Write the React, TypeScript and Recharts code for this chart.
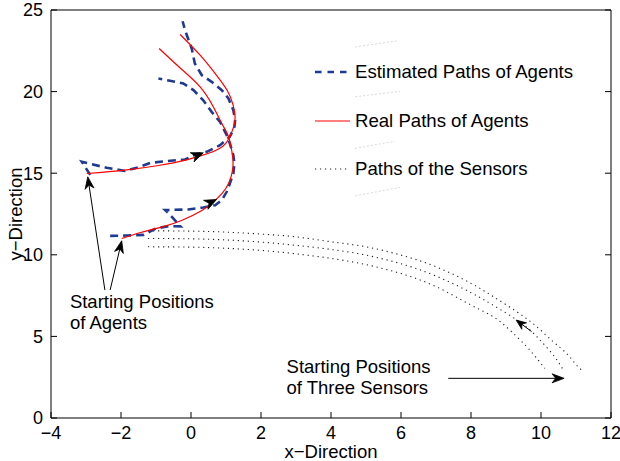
import React from "react";
import { LineChart, Line, XAxis, YAxis, ReferenceLine, ReferenceDot, Legend } from "recharts";

type Pt = [number, number];

const xTicks = [-4, -2, 0, 2, 4, 6, 8, 10, 12];
const yTicks = [0, 5, 10, 15, 20, 25];

// real paths of the two agents
const realPathA: Pt[] = [
  [-1.98, 11.0], [-1.41, 11.38], [-0.84, 11.7], [-0.27, 12.1], [0.31, 12.72], [0.62, 13.2],
  [0.9, 13.8], [1.08, 14.4], [1.18, 15.1], [1.2, 15.8], [1.15, 16.55], [1.06, 17.3],
  [0.88, 18.05], [0.64, 19.06], [0.26, 20.29], [-0.31, 21.45], [-0.91, 22.64],
];
const realPathB: Pt[] = [
  [-2.98, 14.98], [-1.89, 15.19], [-0.93, 15.47], [-0.15, 15.8], [0.2, 16.02], [0.5, 16.22],
  [0.8, 16.5], [1.0, 16.85], [1.12, 17.3], [1.22, 17.85], [1.26, 18.45], [1.2, 19.2],
  [1.04, 20.05], [0.73, 21.0], [0.26, 22.23], [-0.31, 23.5],
];

// estimated paths
const estPathA: Pt[] = [
  [-2.31, 11.16], [-1.85, 11.18], [-1.36, 11.22], [-1.0, 11.62], [-0.6, 11.76], [-0.3, 11.74],
  [-0.6, 12.45], [-0.74, 12.74], [-0.08, 12.78], [0.35, 12.9], [0.69, 13.04], [0.88, 13.35],
  [1.02, 13.86], [1.11, 14.37], [1.21, 14.98], [1.24, 15.6], [1.21, 16.1], [1.11, 16.82],
  [1.02, 17.33], [0.83, 18.14], [0.59, 18.76], [0.35, 19.47], [0.07, 20.09], [-0.22, 20.5],
  [-0.6, 20.66], [-0.93, 20.8],
];
const estPathB: Pt[] = [
  [-2.88, 14.9], [-3.12, 15.7], [-2.41, 15.33], [-1.89, 15.14], [-1.46, 15.39], [-1.17, 15.63],
  [-0.69, 15.74], [-0.17, 15.84], [0.16, 16.17], [0.45, 16.31], [0.83, 16.72], [1.11, 17.23],
  [1.24, 17.84], [1.26, 18.25], [1.21, 18.86], [1.07, 19.58], [0.88, 20.09], [0.59, 20.6],
  [0.31, 21.0], [0.11, 21.72], [0.02, 22.64], [-0.17, 23.76], [-0.24, 24.31],
];

// sensor paths (outer, middle, inner arc)
const sensorPath1: Pt[] = [
  [-1.23, 11.47], [0, 11.45], [1, 11.39], [2, 11.27], [3, 11.1], [4, 10.8], [5, 10.49],
  [6, 9.98], [7, 9.27], [8, 8.25], [8.64, 7.43], [9.31, 6.51], [9.88, 5.59], [10.35, 4.67],
  [10.73, 3.96], [10.97, 3.35], [11.16, 2.94],
];
const sensorPath2: Pt[] = [
  [-1.23, 11.0], [0, 10.98], [1, 10.91], [2, 10.78], [3, 10.58], [4, 10.33], [5, 9.98],
  [6, 9.45], [7, 8.7], [8, 7.68], [8.6, 6.95], [9.45, 5.8], [9.97, 4.78], [10.35, 3.86],
  [10.64, 2.94],
];
const sensorPath3: Pt[] = [
  [-1.23, 10.49], [0, 10.47], [1, 10.4], [2, 10.27], [3, 10.06], [4, 9.78], [5, 9.4],
  [6, 8.85], [7, 8.05], [8, 6.92], [8.64, 6.2], [9.11, 5.39], [9.59, 4.37], [9.92, 3.55],
  [10.11, 3.04],
];

// annotation arrows: [tail, tip]
const labelArrows: [Pt, Pt][] = [
  [[-2.46, 7.84], [-2.95, 14.78]],
  [[-2.31, 7.84], [-1.98, 10.86]],
  [[7.35, 2.43], [10.66, 2.43]],
];
const directionArrows: [Pt, Pt][] = [
  [[-0.03, 15.92], [0.35, 16.25]],
  [[0.4, 13.04], [0.73, 13.39]],
];
const sensorArrow: [Pt, Pt] = [[9.73, 5.3], [9.29, 6.0]];
const ghostLines: [Pt, Pt][] = [
  [[4.69, 22.74], [5.88, 23.1]],
  [[4.69, 19.68], [5.97, 20.02]],
  [[4.69, 16.52], [5.83, 16.96]],
  [[4.69, 13.61], [5.97, 14.13]],
];

const agentNote = { x: -3.46, y: 6.74, lines: ["Starting Positions", "of Agents"] };
const sensorNote = { x: 2.73, y: 2.74, lines: ["Starting Positions", "of Three Sensors"] };

const legendItems = [
  { label: "Estimated Paths of Agents", kind: "est" },
  { label: "Real Paths of Agents", kind: "real" },
  { label: "Paths of the Sensors", kind: "sensor" },
];

const FONT = "'Liberation Sans', Arial, Helvetica, sans-serif";
const BLUE = "#1f3a93";
const RED = "#ff0000";
const DOTS = "#222";

const toPts = (p: Pt[]) => p.map(([x, y]) => ({ x, y }));
const minus = (v: number) => String(v).replace("-", "\u2212");

function arrow(shaft: boolean, len = 12, half = 4.5) {
  return (props: any) => {
    const { x1, y1, x2, y2 } = props;
    const a = Math.atan2(y2 - y1, x2 - x1);
    const c = Math.cos(a);
    const s = Math.sin(a);
    const bx = x2 - len * c;
    const by = y2 - len * s;
    const nx = x2 - len * 0.7 * c;
    const ny = y2 - len * 0.7 * s;
    const pts = `${x2},${y2} ${bx - half * s},${by + half * c} ${nx},${ny} ${bx + half * s},${by - half * c}`;
    return (
      <g>
        {shaft && <line x1={x1} y1={y1} x2={nx} y2={ny} stroke="#000" strokeWidth={1} />}
        <polygon points={pts} fill="#000" stroke="#000" strokeWidth={0.8} strokeLinejoin="miter" />
      </g>
    );
  };
}

function note(lines: string[]) {
  return (props: any) => (
    <text x={props.cx} y={props.cy} fontFamily={FONT} fontSize={18.5} fill="#000">
      {lines.map((t, i) => (
        <tspan key={t} x={props.cx} dy={i === 0 ? 0 : 21}>
          {t}
        </tspan>
      ))}
    </text>
  );
}

function renderLegend() {
  return (
    <div style={{ fontFamily: FONT, fontSize: 18.6, color: "#000" }}>
      {legendItems.map((it) => (
        <div key={it.label} style={{ height: 48.6, display: "flex", alignItems: "center" }}>
          <svg width={35} height={10} style={{ marginRight: 5 }}>
            {it.kind === "est" && (
              <line x1={0} y1={5} x2={35} y2={5} stroke={BLUE} strokeWidth={2.5} strokeDasharray="6.5 6" />
            )}
            {it.kind === "real" && <line x1={0} y1={5} x2={35} y2={5} stroke={RED} strokeWidth={1.2} />}
            {it.kind === "sensor" && (
              <line x1={0} y1={5} x2={35} y2={5} stroke={DOTS} strokeWidth={1} strokeDasharray="1.2 3.8" />
            )}
          </svg>
          <span style={{ whiteSpace: "nowrap" }}>{it.label}</span>
        </div>
      ))}
    </div>
  );
}

export default function App() {
  const seg = (p: [Pt, Pt]) => [
    { x: p[0][0], y: p[0][1] },
    { x: p[1][0], y: p[1][1] },
  ];

  return (
    <div style={{ position: "absolute", left: 0, top: 0, width: 620, height: 461, fontFamily: FONT }}>
      <LineChart width={620} height={461} margin={{ top: 9, right: 8, bottom: 0, left: 8 }}>
        <XAxis
          dataKey="x"
          type="number"
          domain={[-4, 12]}
          ticks={xTicks}
          allowDataOverflow
          interval={0}
          height={43}
          tickSize={-6}
          tickMargin={14}
          stroke="#000"
          tick={{ fill: "#000", fontSize: 18, fontFamily: FONT }}
          tickFormatter={minus}
          label={{ value: "x\u2212Direction", position: "insideBottom", offset: 3, fill: "#000", fontSize: 18.5, fontFamily: FONT }}
        />
        <XAxis
          xAxisId="top"
          orientation="top"
          type="number"
          domain={[-4, 12]}
          ticks={xTicks}
          allowDataOverflow
          interval={0}
          height={1}
          tickSize={-6}
          stroke="#000"
          tickFormatter={() => ""}
        />
        <YAxis
          dataKey="y"
          type="number"
          domain={[0, 25]}
          ticks={yTicks}
          allowDataOverflow
          interval={0}
          width={43}
          tickSize={-6}
          tickMargin={14}
          stroke="#000"
          tick={{ fill: "#000", fontSize: 18, fontFamily: FONT }}
          label={{ value: "y\u2212Direction", angle: -90, position: "insideLeft", offset: 7, fill: "#000", fontSize: 18.5, fontFamily: FONT, style: { textAnchor: "middle" } }}
        />
        <YAxis
          yAxisId="right"
          orientation="right"
          type="number"
          domain={[0, 25]}
          ticks={yTicks}
          allowDataOverflow
          interval={0}
          width={1}
          tickSize={-6}
          stroke="#000"
          tickFormatter={() => ""}
        />

        {ghostLines.map((g, i) => (
          <ReferenceLine key={`g${i}`} segment={seg(g)} stroke="#cfcfcf" strokeWidth={0.8} strokeDasharray="2 2" />
        ))}

        {[sensorPath1, sensorPath2, sensorPath3].map((p, i) => (
          <Line
            key={`s${i}`}
            data={toPts(p)}
            dataKey="y"
            type="natural"
            stroke={DOTS}
            strokeWidth={1.1}
            strokeDasharray="1.2 3.8"
            dot={false}
            isAnimationActive={false}
          />
        ))}
        {[estPathA, estPathB].map((p, i) => (
          <Line
            key={`e${i}`}
            data={toPts(p)}
            dataKey="y"
            type="linear"
            stroke={BLUE}
            strokeWidth={2.6}
            strokeDasharray="8 5"
            dot={false}
            isAnimationActive={false}
          />
        ))}
        {[realPathA, realPathB].map((p, i) => (
          <Line
            key={`r${i}`}
            data={toPts(p)}
            dataKey="y"
            type="natural"
            stroke={RED}
            strokeWidth={1.2}
            dot={false}
            isAnimationActive={false}
          />
        ))}

        {labelArrows.map((a, i) => (
          <ReferenceLine key={`la${i}`} segment={seg(a)} shape={arrow(true)} />
        ))}
        {directionArrows.map((a, i) => (
          <ReferenceLine key={`da${i}`} segment={seg(a)} shape={arrow(false, 12, 5)} />
        ))}
        <ReferenceLine segment={seg(sensorArrow)} shape={arrow(true, 10, 4)} />

        <ReferenceDot x={agentNote.x} y={agentNote.y} r={0} shape={note(agentNote.lines)} />
        <ReferenceDot x={sensorNote.x} y={sensorNote.y} r={0} shape={note(sensorNote.lines)} />

        <Legend
          layout="vertical"
          align="center"
          verticalAlign="middle"
          content={renderLegend}
          wrapperStyle={{ top: 48, left: 315, width: 280, height: 146 }}
        />
      </LineChart>
    </div>
  );
}
